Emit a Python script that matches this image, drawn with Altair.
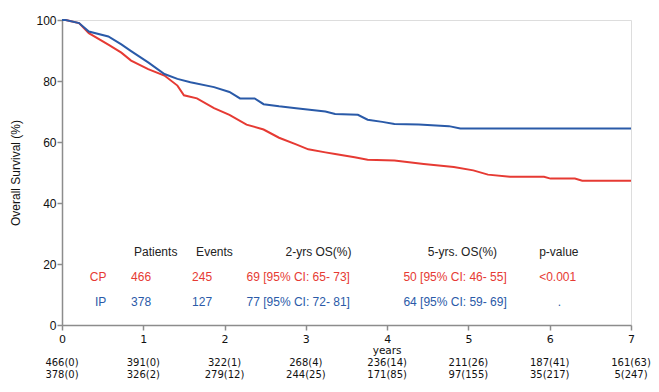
import altair as alt
import pandas as pd

# Kaplan-Meier curves (years, overall survival %)
cp_years = [0, 0.045, 0.21, 0.33, 0.57, 0.73, 0.85, 1.06, 1.26, 1.42, 1.50, 1.66, 1.87, 2.06, 2.27,
            2.48, 2.67, 2.88, 3.03, 3.24, 3.36, 3.60, 3.76, 4.09, 4.45, 4.82, 5.06, 5.24, 5.51,
            5.93, 6.01, 6.31, 6.40, 7.0]
cp_surv = [100, 100, 99.0, 95.7, 91.9, 89.3, 86.7, 83.9, 81.8, 78.5, 75.3, 74.3, 71.1, 68.9, 65.7,
           64.1, 61.4, 59.2, 57.6, 56.6, 56.1, 55.0, 54.2, 53.9, 52.8, 51.8, 50.7, 49.3, 48.6,
           48.6, 48.0, 48.0, 47.3, 47.3]

ip_years = [0, 0.045, 0.21, 0.33, 0.57, 0.73, 0.85, 1.06, 1.26, 1.42, 1.58, 1.87, 2.06, 2.19, 2.37,
            2.48, 2.67, 2.88, 3.24, 3.36, 3.64, 3.76, 3.94, 4.09, 4.39, 4.76, 4.90, 7.0]
ip_surv = [100, 100, 99.0, 96.2, 94.6, 92.0, 89.8, 86.1, 82.3, 80.7, 79.6, 78.0, 76.4, 74.3, 74.3,
           72.4, 71.7, 71.1, 70.0, 69.2, 68.9, 67.3, 66.6, 65.9, 65.7, 65.2, 64.4, 64.4]

groups = ["CP", "IP"]
patients = ["466", "378"]
events = ["245", "127"]
os2 = ["69 [95% CI: 65- 73]", "77 [95% CI: 72- 81]"]
os5 = ["50 [95% CI: 46- 55]", "64 [95% CI: 59- 69]"]
pvals = ["<0.001", "."]
headers = ["Patients", "Events", "2-yrs OS(%)", "5-yrs. OS(%)", "p-value"]

risk_times = [0, 1, 2, 3, 4, 5, 6, 7]
risk_cp = ["466(0)", "391(0)", "322(1)", "268(4)", "236(14)", "211(26)", "187(41)", "161(63)"]
risk_ip = ["378(0)", "326(2)", "279(12)", "244(25)", "171(85)", "97(155)", "35(217)", "5(247)"]

RED_LINE = "#e63a33"
BLUE_LINE = "#2a5aa8"
RED_TXT = "#e4564f"
BLUE_TXT = "#4169b0"

curves = pd.concat([
    pd.DataFrame({"t": cp_years, "s": cp_surv, "g": "CP"}),
    pd.DataFrame({"t": ip_years, "s": ip_surv, "g": "IP"}),
])

xs = alt.Scale(domain=[0, 7], nice=False)
ys = alt.Scale(domain=[0, 100], nice=False)

lines = alt.Chart(curves).mark_line(strokeWidth=2, interpolate="linear").encode(
    x=alt.X("t:Q", scale=xs, axis=alt.Axis(values=[0, 1, 2, 3, 4, 5, 6, 7], format="d", title=None, grid=False,
            domainColor="#8c8c8c", domainWidth=1.5, tickColor="#8c8c8c", tickWidth=1.5, tickSize=5,
            labelFont="DejaVu Sans", labelFontSize=11, labelColor="#111", labelPadding=3, labelFlush=False)),
    y=alt.Y("s:Q", scale=ys, axis=alt.Axis(values=[0, 20, 40, 60, 80, 100], title="Overall Survival (%)", grid=False,
            domainColor="#8c8c8c", domainWidth=1.5, tickColor="#8c8c8c", tickWidth=1.5, tickSize=5,
            labelFont="Liberation Sans", labelFontSize=12, labelColor="#111", labelPadding=1,
            titleFont="Liberation Sans", titleFontSize=12, titleFontWeight="normal", titleColor="#111",
            titlePadding=13)),
    color=alt.Color("g:N", scale=alt.Scale(domain=["CP", "IP"], range=[RED_LINE, BLUE_LINE]), legend=None),
    detail="g:N",
)

# annotation table
hdr_x = [0.886, 1.65, 2.75, 4.50, 5.87]
hdr_df = pd.DataFrame({"x": hdr_x, "y": [23.9] * 5, "txt": headers})
hdr = alt.Chart(hdr_df).mark_text(align="left", baseline="middle", font="Liberation Sans", fontSize=12,
                                  color="#222").encode(x=alt.X("x:Q", scale=xs), y=alt.Y("y:Q", scale=ys), text="txt:N")

row_y = [15.9, 7.6]
rows = []
for i, g in enumerate(groups):
    rows += [
        {"x": 0.546, "y": row_y[i], "txt": groups[i], "g": g, "al": "right"},
        {"x": 0.85, "y": row_y[i], "txt": patients[i], "g": g, "al": "left"},
        {"x": 1.60, "y": row_y[i], "txt": events[i], "g": g, "al": "left"},
        {"x": 2.27, "y": row_y[i], "txt": os2[i], "g": g, "al": "left"},
        {"x": 4.20, "y": row_y[i], "txt": os5[i], "g": g, "al": "left"},
        {"x": 5.87 if i == 0 else 6.10, "y": row_y[i], "txt": pvals[i], "g": g, "al": "left"},
    ]
rows_df = pd.DataFrame(rows)
txt_color = alt.Color("g:N", scale=alt.Scale(domain=["CP", "IP"], range=[RED_TXT, BLUE_TXT]), legend=None)
row_left = alt.Chart(rows_df).transform_filter(alt.datum.al == "left").mark_text(
    align="left", baseline="middle", font="Liberation Sans", fontSize=12).encode(
    x=alt.X("x:Q", scale=xs), y=alt.Y("y:Q", scale=ys), text="txt:N", color=txt_color)
row_right = alt.Chart(rows_df).transform_filter(alt.datum.al == "right").mark_text(
    align="right", baseline="middle", font="Liberation Sans", fontSize=12).encode(
    x=alt.X("x:Q", scale=xs), y=alt.Y("y:Q", scale=ys), text="txt:N", color=txt_color)

# x-axis label and numbers at risk, below the plot
years_lbl = alt.Chart(pd.DataFrame({"x": [4], "txt": ["years"]})).mark_text(
    baseline="middle", font="DejaVu Sans", fontSize=10.5, color="#111").encode(
    x=alt.X("x:Q", scale=xs), y=alt.value(331), text="txt:N")

risk1 = alt.Chart(pd.DataFrame({"x": risk_times, "txt": risk_cp})).mark_text(
    baseline="middle", font="DejaVu Sans", fontSize=10, color="#111").encode(
    x=alt.X("x:Q", scale=xs), y=alt.value(343), text="txt:N")
risk2 = alt.Chart(pd.DataFrame({"x": risk_times, "txt": risk_ip})).mark_text(
    baseline="middle", font="DejaVu Sans", fontSize=10, color="#111").encode(
    x=alt.X("x:Q", scale=xs), y=alt.value(355), text="txt:N")

chart = alt.layer(lines, hdr, row_left, row_right, years_lbl, risk1, risk2).properties(
    width=569, height=305,
    autosize=alt.AutoSizeParams(type="none"),
    padding={"left": 54, "top": 12, "right": 20, "bottom": 59},
).configure_view(stroke=None).configure(background="white")

chart.save("out.html", embed_options={"renderer": "svg", "actions": False})
